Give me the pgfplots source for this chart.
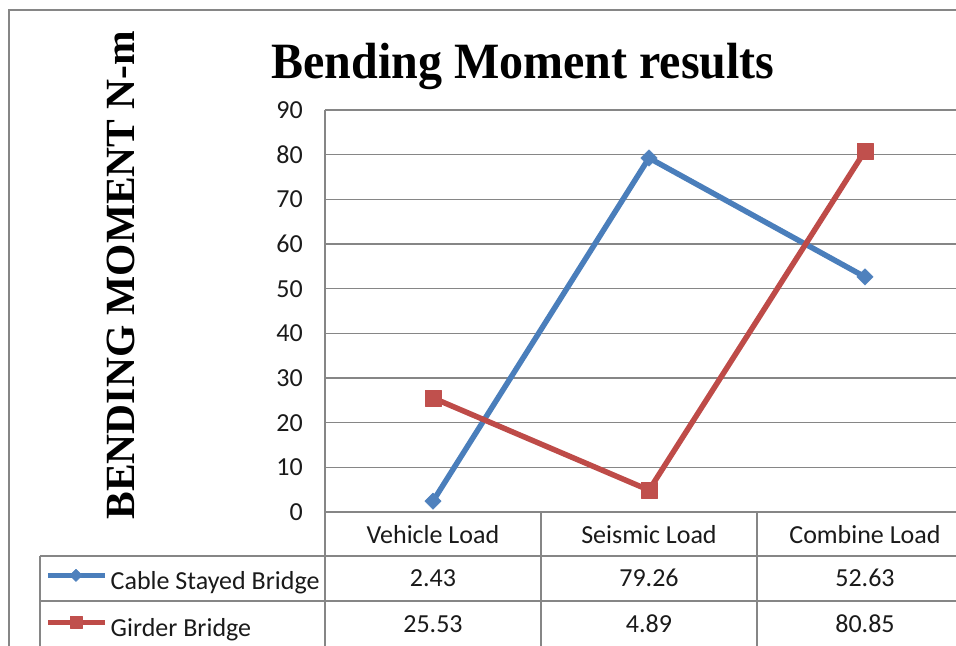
\documentclass[border=0pt]{standalone}
\usepackage{fontspec}
\setmainfont{Carlito}
\newfontfamily\timesf{Liberation Serif}
\usepackage{pgfplots}
\pgfplotsset{compat=1.18}
\definecolor{cblue}{HTML}{4A7EBB}
\definecolor{cbluef}{HTML}{4F81BD}
\definecolor{cred}{HTML}{BE4B48}
\definecolor{credf}{HTML}{C0504D}
\definecolor{gridc}{HTML}{868686}
\definecolor{txt}{HTML}{1A1A1A}
\begin{document}
\begin{tikzpicture}
\begin{axis}[
  name=ax,
  scale only axis, width=631pt, height=402pt,
  xmin=-0.5, xmax=2.4213, ymin=0, ymax=90,
  clip=false,
  axis lines*=left,
  axis line style={gridc, line width=1.5pt},
  ytick={0,10,...,90},
  ymajorgrids,
  grid style={gridc, line width=1.5pt},
  major tick length=0pt,
  xtick={0,1,2},
  xticklabels={Vehicle Load, Seismic Load, Combine Load},
  /pgf/number format/assume math mode=true,
  tick label style={font=\fontsize{26}{30}\selectfont, text=txt, inner sep=0pt},
  yticklabel style={anchor=east, xshift=-22pt},
  xticklabel style={anchor=base, yshift=-31pt},
  legend style={at={(axis description cs:-0.4437,-0.1418)}, anchor=north west,
    draw=none, fill=none, inner sep=0pt, row sep=21pt, column sep=3pt,
    font=\fontsize{26}{30}\selectfont, text=txt,
    nodes={inner sep=0pt, text height=18pt, text depth=6pt}},
  legend cell align=left,
  legend image code/.code={
    \draw[#1, mark repeat=2, mark phase=2, /tikz/every mark/.append style={scale=0.75}]
      plot coordinates {(0pt,8pt) (28pt,8pt) (57pt,8pt)};
  },
]
\addplot[cblue, line width=5.5pt, line join=round, mark=square*, mark size=5.8pt,
  mark options={rotate=45, fill=cbluef, draw=cbluef, line width=0.5pt}]
  coordinates {(0,2.43) (1,79.26) (2,52.63)};
\addlegendentry{Cable Stayed Bridge}
\addplot[cred, line width=5.5pt, line join=round, mark=square*, mark size=8pt,
  mark options={fill=credf, draw=credf, line width=0.5pt}]
  coordinates {(0,25.53) (1,4.89) (2,80.85)};
\addlegendentry{Girder Bridge}
% data table lines
\draw[gridc, line width=1.5pt] (axis cs:-0.5,0) -- (axis cs:-0.5,-30.5);
\draw[gridc, line width=1.5pt] (axis cs:0.5,0) -- (axis cs:0.5,-30.5);
\draw[gridc, line width=1.5pt] (axis cs:1.5,0) -- (axis cs:1.5,-30.5);
\draw[gridc, line width=1.5pt] (axis cs:-1.8194,-9.85) -- (axis cs:2.43,-9.85);
\draw[gridc, line width=1.5pt] (axis cs:-1.8194,-19.93) -- (axis cs:2.43,-19.93);
\draw[gridc, line width=1.5pt] (axis cs:-1.8194,-9.85) -- (axis cs:-1.8194,-30.5);
% outer frame
\draw[gridc, line width=1.8pt] (axis cs:-1.963,-30.5) -- (axis cs:-1.963,112.39) -- (axis cs:2.43,112.39);
% table values
\begin{scope}[every node/.style={anchor=base, inner sep=0pt, text=txt, font=\fontsize{26}{30}\selectfont}]
\node at (axis cs:0,-16.79) {2.43};
\node at (axis cs:1,-16.79) {79.26};
\node at (axis cs:2,-16.79) {52.63};
\node at (axis cs:0,-26.87) {25.53};
\node at (axis cs:1,-26.87) {4.89};
\node at (axis cs:2,-26.87) {80.85};
\end{scope}
% title and y label
\node[anchor=base, inner sep=0pt, font=\timesf\bfseries\fontsize{48}{50}\selectfont] at (axis cs:0.4167,97.16) {\scalebox{1}[1.06]{Bending Moment results}};
\node[anchor=base, rotate=90, inner sep=0pt, font=\timesf\bfseries\fontsize{41.5}{44}\selectfont] at (axis cs:-1.3796,53.06) {BENDING MOMENT N-m};
\coordinate (BL) at (axis cs:-2.0046,-30);
\coordinate (TR) at (axis cs:2.4213,114.63);
\end{axis}
\pgfresetboundingbox
\path (BL) rectangle (TR);
\end{tikzpicture}
\end{document}
